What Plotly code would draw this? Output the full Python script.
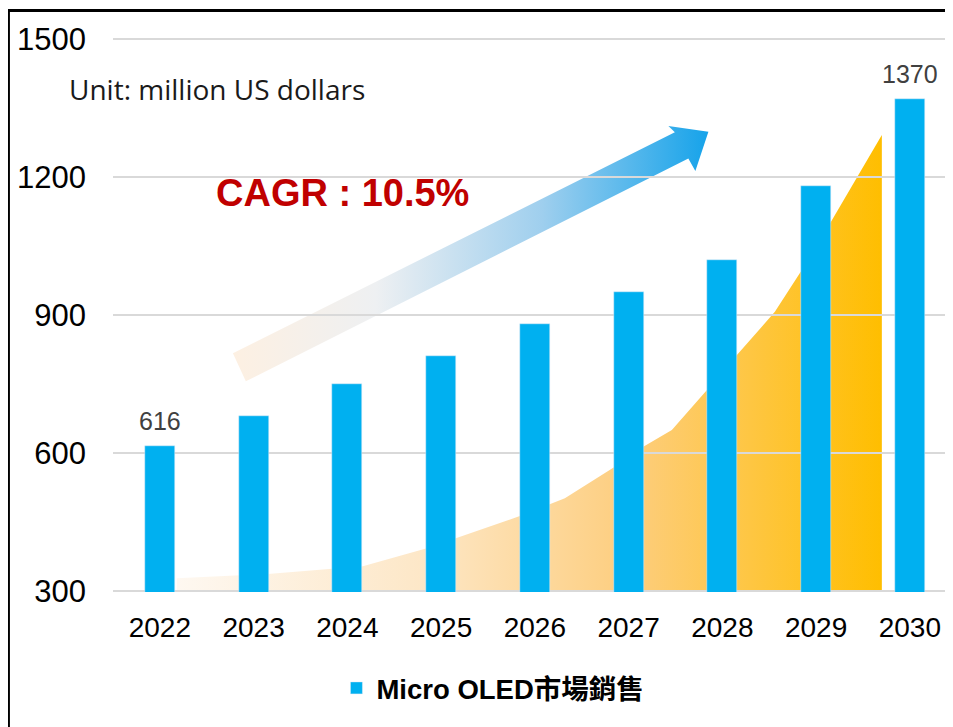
import plotly.graph_objects as go

# ---- data ----
years = ["2022", "2023", "2024", "2025", "2026", "2027", "2028", "2029", "2030"]
sales = [616, 680, 750, 811, 880, 950, 1020, 1180, 1370]
label_idx = [0, 8]                      # bars with value labels
y_ticks = [300, 600, 900, 1200, 1500]
series_name = "<b>Micro OLED市場銷售</b>"

# decorative growth area (category units, value units)
area_x = [0.181, 0.181, 1.152, 2.165, 2.848, 3.84, 4.32, 4.853, 5.152, 5.461,
          5.845, 6.155, 6.56, 6.848, 7.157, 7.435, 7.701, 7.701]
area_y = [300, 328, 337, 354, 393, 463, 502, 570, 613, 650,
          739, 813, 907, 998, 1102, 1200, 1291, 300]

# decorative CAGR arrow outline (category units, value units)
arrow_x = [0.779, 5.493, 5.424, 5.851, 5.712, 5.637, 0.917, 0.779]
arrow_y = [817, 1297, 1311, 1298, 1213, 1240, 756, 817]

FONT = "Liberation Sans, Arial, Noto Sans CJK TC, sans-serif"
XR = [-0.5, 8.46]
YR = [298, 1502]

xs = list(range(len(years)))

fig = go.Figure()

# area (behind everything)
fig.add_trace(go.Scatter(
    x=area_x, y=area_y, mode="lines", line=dict(width=0),
    fill="toself",
    fillgradient=dict(type="horizontal",
                      colorscale=[[0, "#fef8f1"], [0.35, "#fde7c7"],
                                  [0.65, "#fdcd7c"], [1, "#ffbe00"]]),
    hoverinfo="skip", showlegend=False, xaxis="x", yaxis="y"))

# arrow
fig.add_trace(go.Scatter(
    x=arrow_x, y=arrow_y, mode="lines", line=dict(width=0),
    fill="toself",
    fillgradient=dict(type="horizontal",
                      colorscale=[[0, "#fdf0e2"], [0.3, "#eef0f2"],
                                  [0.65, "#9fcfee"], [1, "#16a3ea"]]),
    hoverinfo="skip", showlegend=False, xaxis="x", yaxis="y"))

# gridlines above the area
gx, gy = [], []
for t in y_ticks:
    gx += [XR[0], XR[1], None]
    gy += [t, t, None]
fig.add_trace(go.Scatter(x=gx, y=gy, mode="lines",
                         line=dict(color="#d9d9d9", width=2),
                         hoverinfo="skip", showlegend=False,
                         xaxis="x", yaxis="y"))

# bars on overlay axes (drawn above gridlines)
fig.add_trace(go.Bar(x=xs, y=sales, name=series_name,
                     marker=dict(color="#00b0f0"), width=0.32,
                     xaxis="x2", yaxis="y2", showlegend=True))

for i in label_idx:
    fig.add_annotation(x=xs[i], y=sales[i], xref="x2", yref="y2",
                       text=str(sales[i]), showarrow=False,
                       yanchor="bottom", yshift=9,
                       font=dict(family=FONT, size=25, color="#404040"))

fig.add_annotation(x=-0.0548, y=0.9088, xref="paper", yref="paper",
                   text="Unit: million US dollars", showarrow=False,
                   xanchor="left", yanchor="middle",
                   font=dict(family="Open Sans, Noto Sans, sans-serif",
                             size=28, color="#1a1a1a"))

fig.add_annotation(x=0.2738, y=0.7211, xref="paper", yref="paper",
                   text="<b>CAGR : 10.5%</b>", showarrow=False,
                   xanchor="center", yanchor="middle",
                   font=dict(family=FONT, size=38, color="#c00000"))

# outer border (left and top visible)
fig.add_shape(type="rect", xref="paper", yref="paper",
              x0=-0.1245, x1=1.2, y0=-0.4, y1=1.0496,
              line=dict(color="black", width=3), fillcolor="rgba(0,0,0,0)",
              layer="above")

fig.update_layout(
    width=953, height=719,
    margin=dict(l=105, r=8, t=30, b=135),
    paper_bgcolor="white", plot_bgcolor="white",
    font=dict(family=FONT, color="black"),
    xaxis=dict(range=XR, tickvals=xs, ticktext=years, showgrid=False,
               zeroline=False, showline=False, ticks="",
               tickfont=dict(family=FONT, size=28, color="black"),
               ticklabelstandoff=16, fixedrange=True),
    yaxis=dict(range=YR, tickvals=y_ticks, showgrid=False, zeroline=False,
               showline=False, ticks="",
               tickfont=dict(family=FONT, size=31, color="black"),
               ticklabelstandoff=26, fixedrange=True),
    xaxis2=dict(range=XR, overlaying="x", visible=False, fixedrange=True),
    yaxis2=dict(range=YR, overlaying="y", visible=False, fixedrange=True),
    showlegend=True,
    legend=dict(orientation="h", x=0.266, xanchor="left", y=-0.1733,
                yanchor="middle",
                font=dict(family=FONT, size=27.5, color="black"),
                bgcolor="rgba(0,0,0,0)"),
    bargap=0,
)

fig.write_html("out.html")
